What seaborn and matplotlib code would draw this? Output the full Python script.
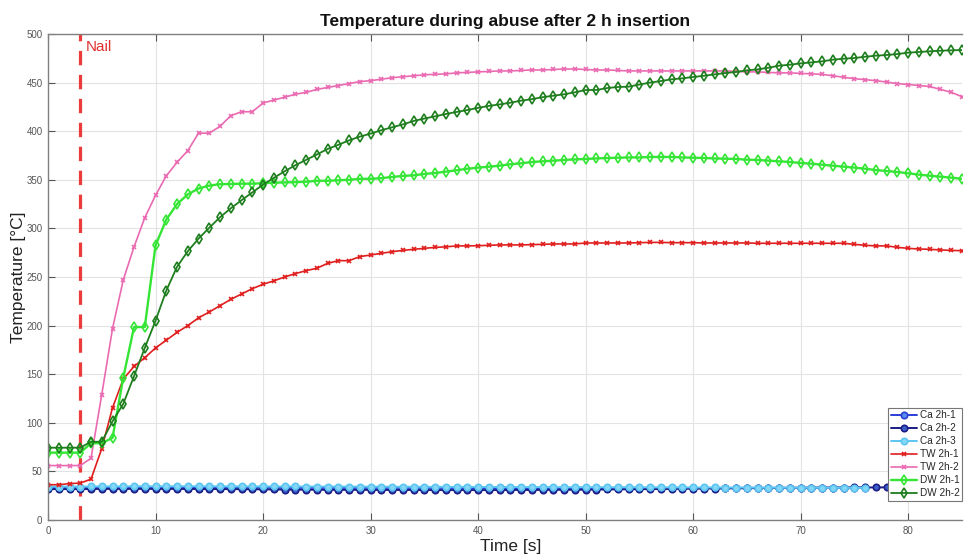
import numpy as np
import pandas as pd
import matplotlib
matplotlib.use("Agg")
import matplotlib.pyplot as plt
import seaborn as sns

# ---------------- data ----------------
TIME = np.arange(0, 86)          # s, one sample per second
NAIL_TIME = 3

CA_2H_1 = [33.0, 33.1, 33.1, 33.2, 33.3, 33.4, 33.4, 33.5, 33.5, 33.5,
           33.5, 33.5, 33.4, 33.4, 33.4, 33.3, 33.3, 33.3, 33.3, 33.2,
           33.2, 33.2, 33.1, 33.1, 33.1, 33.0, 33.0, 33.0, 33.0, 33.0,
           33.0, 33.0, 33.0, 33.0, 33.0, 33.0, 33.0, 33.0, 32.9, 32.9,
           32.9, 32.9, 32.9, 32.9, 32.9, 32.9, 32.9, 32.9, 32.9, 32.9,
           32.9, 32.9, 32.9, 33.0, 33.0, 33.0, 33.0, 33.0, 33.0, 33.0,
           33.0, 33.0, 33.0, 33.0, 33.0, 33.1, 33.1, 33.1, 33.1, 33.1,
           33.1, 33.1, 33.2, 33.2, 33.2, 33.2, 33.2]

CA_2H_2 = [31.8, 31.8, 31.8, 31.8, 31.9, 32.0, 32.0, 32.0, 32.0, 32.0,
           32.0, 32.0, 32.0, 31.9, 31.9, 31.9, 31.8, 31.8, 31.7, 31.6,
           31.5, 31.4, 31.3, 31.2, 31.2, 31.1, 31.0, 31.0, 31.0, 31.0,
           31.0, 30.9, 30.9, 30.9, 30.9, 30.8, 30.8, 30.8, 30.8, 30.8,
           30.8, 30.8, 30.8, 30.9, 30.9, 30.9, 31.0, 31.0, 31.1, 31.1,
           31.2, 31.3, 31.4, 31.5, 31.6, 31.7, 31.8, 31.9, 32.0, 32.1,
           32.2, 32.3, 32.4, 32.5, 32.6, 32.7, 32.8, 32.9, 33.0, 33.1,
           33.2, 33.3, 33.3, 33.4, 33.4, 33.5, 33.5, 33.5, 33.6, 33.6,
           33.6, 33.6, 33.6, 33.6, 33.6, 33.6]

CA_2H_3 = [34.3, 34.3, 34.4, 34.4, 34.5, 34.6, 34.6, 34.6, 34.7, 34.7,
           34.7, 34.7, 34.7, 34.7, 34.7, 34.7, 34.6, 34.6, 34.6, 34.6,
           34.5, 34.5, 34.5, 34.5, 34.4, 34.4, 34.4, 34.4, 34.3, 34.3,
           34.3, 34.3, 34.2, 34.2, 34.2, 34.2, 34.1, 34.1, 34.1, 34.1,
           34.0, 34.0, 34.0, 34.0, 33.9, 33.9, 33.9, 33.9, 33.8, 33.8,
           33.8, 33.8, 33.7, 33.7, 33.7, 33.7, 33.6, 33.6, 33.6, 33.6,
           33.5, 33.5, 33.5, 33.4, 33.4, 33.4, 33.3, 33.3, 33.3, 33.2,
           33.2, 33.2, 33.1, 33.1, 33.1, 33.0, 33.0]

TW_2H_1 = [36.3, 36.3, 37.4, 38, 42, 73.5, 115.5, 145, 158, 167,
           177, 185, 193, 200, 208, 214, 220.5, 227, 232.5, 238,
           242.5, 246, 250, 253.5, 256.5, 259, 264, 266.8, 266.8, 271,
           272.6, 274.4, 276, 277.4, 278.5, 279.5, 280.5, 281, 282, 282,
           282.2, 282.6, 283, 283, 283, 283.3, 283.6, 284, 284, 284,
           285, 285, 285, 285, 285, 285.3, 285.6, 285.6, 285.3, 285.3,
           285.3, 285, 285, 285, 285, 285, 284.7, 284.7, 284.7, 284.7,
           284.7, 284.7, 284.7, 284.7, 284.7, 283.6, 282.6, 282, 282, 280.5,
           279.5, 278.8, 278.5, 277.8, 277.4, 277]

TW_2H_2 = [56, 56, 56, 56, 63.5, 129, 197, 247, 281, 311,
           334, 354, 368, 380, 398, 398, 405, 416, 420, 420,
           429, 432, 435, 438, 440, 443, 445, 447, 449, 451,
           452, 453.5, 455, 456, 457, 458, 458.5, 459, 460, 460.5,
           461, 461.5, 462, 462, 462.5, 463, 463, 463.5, 464, 464,
           463.5, 463, 463, 462.5, 462, 462, 462, 462, 462, 462,
           462, 462, 462, 462, 461.5, 461, 461, 460.5, 460, 460,
           459.5, 459, 458.5, 457, 455.5, 454, 453, 452, 450.5, 449,
           448, 447, 446, 443, 440, 435.5]

DW_2H_1 = [69.3, 69.3, 69.3, 69.3, 79, 79, 84.5, 146.5, 198.5, 198.5,
           282.5, 309, 325, 335, 341, 344, 345.5, 345.7, 346, 346,
           346.5, 347, 347.3, 347.6, 348, 349, 349, 349.5, 350, 351,
           351, 351.7, 352.9, 354, 354.6, 356, 357, 358.4, 359.8, 361.4,
           362.5, 363.5, 364.5, 366, 367, 368.3, 369, 369.7, 370.4, 371,
           371.4, 372, 372.4, 372.7, 373, 373, 373.5, 373.5, 373.5, 373,
           372.7, 372.4, 372, 371.7, 371.4, 370.7, 370.4, 369.7, 369, 368.3,
           367.3, 366.6, 365.5, 364.5, 363.5, 362.5, 361.4, 360, 359, 358,
           356.7, 355.3, 354.2, 353.2, 352.2, 351]

DW_2H_2 = [74.4, 74.4, 74.4, 74.4, 80.5, 80.5, 101.5, 119.5, 148, 177,
           205, 236, 260.5, 276.5, 289.5, 300.7, 311.5, 320.7, 329, 337,
           345, 352, 358.7, 365, 370.5, 376, 381.7, 386, 390.6, 394.4,
           397.5, 401, 404, 407, 410.5, 413, 415.3, 417.7, 419.8, 421.8,
           424, 426, 427.6, 429.3, 431.4, 433, 435, 436.5, 438, 440,
           442.4, 442.4, 444.4, 445.5, 445.8, 448, 450, 451.6, 453.4, 454.4,
           455.8, 457, 458.5, 459.8, 461, 462.6, 463.6, 465.3, 467.4, 468.4,
           469.8, 470.8, 471.9, 473.6, 474.6, 475.3, 476.6, 477.7, 478.4, 479.4,
           480.8, 481.5, 482.2, 482.8, 483.2, 483.5]

SERIES_NAMES = ["Ca 2h-1", "Ca 2h-2", "Ca 2h-3", "TW 2h-1", "TW 2h-2", "DW 2h-1", "DW 2h-2"]
SERIES_VALUES = [CA_2H_1, CA_2H_2, CA_2H_3, TW_2H_1, TW_2H_2, DW_2H_1, DW_2H_2]

# ---------------- styles ----------------
STYLES = {
    "Ca 2h-1": dict(color="#2b3fd6", marker="o", ms=4.6, lw=1.4, mfc="#5a8ee8"),
    "Ca 2h-2": dict(color="#1c1c86", marker="o", ms=4.6, lw=1.4, mfc="#3a5fc8"),
    "Ca 2h-3": dict(color="#5cc6f2", marker="o", ms=4.6, lw=1.4, mfc="#86d6f6"),
    "TW 2h-1": dict(color="#e01e1e", marker="x", ms=3.0, lw=1.2, mfc="#e01e1e"),
    "TW 2h-2": dict(color="#ea6ab2", marker="x", ms=3.0, lw=1.2, mfc="#ea6ab2"),
    "DW 2h-1": dict(color="#35e535", marker="d", ms=4.8, lw=1.7, mfc="none"),
    "DW 2h-2": dict(color="#1e7e1e", marker="d", ms=4.8, lw=1.3, mfc="none"),
}

rows = []
for name, vals in zip(SERIES_NAMES, SERIES_VALUES):
    for t, v in zip(TIME[:len(vals)], vals):
        rows.append((name, t, v))
df = pd.DataFrame(rows, columns=["series", "time", "temp"])

sns.set_style("whitegrid")
plt.rcParams["font.family"] = ["Liberation Sans", "DejaVu Sans"]

fig = plt.figure(figsize=(9.64, 5.54), dpi=100)
ax = fig.add_axes([48 / 964, 34 / 554, 914 / 964, 486 / 554])

for name in SERIES_NAMES:
    st = STYLES[name]
    sub = df[df["series"] == name]
    sns.lineplot(data=sub, x="time", y="temp", ax=ax, label=name,
                 color=st["color"], linewidth=st["lw"], marker=st["marker"],
                 markersize=st["ms"], markerfacecolor=st["mfc"],
                 markeredgecolor=st["color"], markeredgewidth=1.2,
                 estimator=None, sort=False)

ax.axvline(NAIL_TIME, color="#ec3b3b", linestyle=(0, (4.5, 3)), linewidth=2.3, zorder=1)
ax.text(NAIL_TIME + 0.5, 487, "Nail", color="#e03030", fontsize=11, va="center", ha="left")

ax.set_xlim(0, 85)
ax.set_ylim(0, 500)
ax.set_xticks(np.arange(0, 81, 10))
ax.set_yticks(np.arange(0, 501, 50))
ax.grid(True, color="#e3e3e3", linewidth=0.8)
ax.tick_params(axis="both", direction="in", length=5, labelsize=7, colors="#555555",
               bottom=True, left=True, top=True, width=0.8)
ax.tick_params(axis="x", pad=4)
ax.tick_params(axis="y", pad=4)
for sp in ["left", "bottom", "top"]:
    ax.spines[sp].set_visible(True)
    ax.spines[sp].set_color("#808080")
    ax.spines[sp].set_linewidth(1.0)
ax.spines["right"].set_visible(False)

ax.set_xlabel("Time [s]", fontsize=12.5, color="#222222")
ax.set_ylabel("Temperature [°C]", fontsize=12.5, color="#222222")
ax.xaxis.set_label_coords((511 - 48) / 914, -18.5 / 486)
ax.yaxis.set_label_coords(-22 / 914, 0.5)
ax.set_title("Temperature during abuse after 2 h insertion", fontsize=12.5,
             fontweight="bold", color="#111111", pad=6)

leg = ax.legend(loc="lower right", bbox_to_anchor=(1.002, 0.035), fontsize=7.2,
                frameon=True, fancybox=False, framealpha=1, edgecolor="#777777",
                borderpad=0.25, labelspacing=0.3, handlelength=2.6, handletextpad=0.3,
                borderaxespad=0.2)
leg.get_frame().set_linewidth(0.8)

fig.savefig("out.png", dpi=100)
